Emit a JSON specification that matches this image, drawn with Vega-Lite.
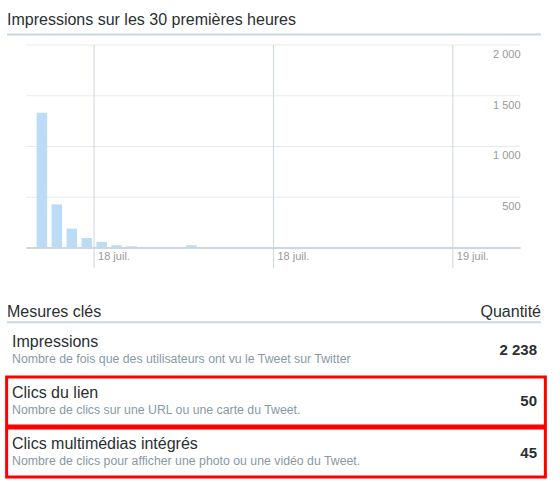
{
  "$schema": "https://vega.github.io/schema/vega-lite/v6.json",
  "background": "#ffffff",
  "autosize": {"type": "fit", "contains": "padding"},
  "width": 560,
  "height": 487,
  "padding": 0,
  "datasets": {
    "impressions": [
      {"heure": "2015-07-17T20:00:00", "nombre": 1332},
      {"heure": "2015-07-17T21:00:00", "nombre": 430},
      {"heure": "2015-07-17T22:00:00", "nombre": 191},
      {"heure": "2015-07-17T23:00:00", "nombre": 98},
      {"heure": "2015-07-18T00:00:00", "nombre": 59},
      {"heure": "2015-07-18T01:00:00", "nombre": 27},
      {"heure": "2015-07-18T02:00:00", "nombre": 17},
      {"heure": "2015-07-18T03:00:00", "nombre": 4},
      {"heure": "2015-07-18T04:00:00", "nombre": 3},
      {"heure": "2015-07-18T05:00:00", "nombre": 3},
      {"heure": "2015-07-18T06:00:00", "nombre": 27},
      {"heure": "2015-07-18T07:00:00", "nombre": 3},
      {"heure": "2015-07-18T08:00:00", "nombre": 2},
      {"heure": "2015-07-18T09:00:00", "nombre": 3},
      {"heure": "2015-07-18T10:00:00", "nombre": 2},
      {"heure": "2015-07-18T11:00:00", "nombre": 2},
      {"heure": "2015-07-18T12:00:00", "nombre": 3},
      {"heure": "2015-07-18T13:00:00", "nombre": 2},
      {"heure": "2015-07-18T14:00:00", "nombre": 3},
      {"heure": "2015-07-18T15:00:00", "nombre": 2},
      {"heure": "2015-07-18T16:00:00", "nombre": 2},
      {"heure": "2015-07-18T17:00:00", "nombre": 3},
      {"heure": "2015-07-18T18:00:00", "nombre": 2},
      {"heure": "2015-07-18T19:00:00", "nombre": 3},
      {"heure": "2015-07-18T20:00:00", "nombre": 2},
      {"heure": "2015-07-18T21:00:00", "nombre": 3},
      {"heure": "2015-07-18T22:00:00", "nombre": 2},
      {"heure": "2015-07-18T23:00:00", "nombre": 3},
      {"heure": "2015-07-19T00:00:00", "nombre": 2},
      {"heure": "2015-07-19T01:00:00", "nombre": 3}
    ],
    "reperes": [
      {"t": "2015-07-18T00:00:00"},
      {"t": "2015-07-18T12:00:00"},
      {"t": "2015-07-19T00:00:00"}
    ],
    "paliers": [{"v": 500}, {"v": 1000}, {"v": 1500}, {"v": 2000}],
    "mesures": [
      {"rang": 1, "nom": "Impressions", "description": "Nombre de fois que des utilisateurs ont vu le Tweet sur Twitter", "valeur": 2238, "surligne": false},
      {"rang": 2, "nom": "Clics du lien", "description": "Nombre de clics sur une URL ou une carte du Tweet.", "valeur": 50, "surligne": true},
      {"rang": 3, "nom": "Clics multimédias intégrés", "description": "Nombre de clics pour afficher une photo ou une vidéo du Tweet.", "valeur": 45, "surligne": true}
    ]
  },
  "layer": [
    {
      "layer": [
        {
          "data": {"name": "paliers"},
          "mark": {"type": "rule", "color": "#c9d4dc", "strokeDash": [1, 1], "strokeWidth": 1},
          "encoding": {
            "y": {
              "field": "v", "type": "quantitative",
              "scale": {"domain": [-2354.7, 2443.3], "nice": false, "zero": false},
              "axis": null
            },
            "x": {
              "datum": {"year": 2015, "month": 7, "date": 17, "hours": 19, "minutes": 29},
              "type": "temporal",
              "scale": {
                "domain": [
                  {"year": 2015, "month": 7, "date": 17, "hours": 18, "minutes": 2, "seconds": 26},
                  {"year": 2015, "month": 7, "date": 19, "hours": 6, "minutes": 50, "seconds": 6}
                ],
                "nice": false
              },
              "axis": null
            },
            "x2": {"datum": {"year": 2015, "month": 7, "date": 19, "hours": 4, "minutes": 32}}
          }
        },
        {
          "data": {"name": "reperes"},
          "mark": {"type": "rule", "color": "#ccd6dd", "strokeWidth": 1},
          "encoding": {
            "x": {"field": "t", "type": "temporal", "axis": null},
            "y": {"datum": 2000, "type": "quantitative"},
            "y2": {"datum": -197}
          }
        },
        {
          "data": {"name": "impressions"},
          "mark": {"type": "bar", "color": "#bbdcf4", "width": 10.5, "xOffset": 7.6},
          "encoding": {
            "x": {"field": "heure", "type": "temporal", "axis": null},
            "y": {"field": "nombre", "type": "quantitative", "stack": null, "axis": null}
          }
        },
        {
          "data": {"values": [{}]},
          "mark": {"type": "rule", "color": "#ccd6dd", "strokeWidth": 2},
          "encoding": {
            "y": {"datum": 0, "type": "quantitative"},
            "x": {"datum": {"year": 2015, "month": 7, "date": 17, "hours": 19, "minutes": 29}, "type": "temporal"},
            "x2": {"datum": {"year": 2015, "month": 7, "date": 19, "hours": 4, "minutes": 32}}
          }
        },
        {
          "data": {"name": "paliers"},
          "mark": {"type": "text", "align": "right", "baseline": "middle", "fontSize": 11, "color": "#999999", "dy": 10},
          "encoding": {
            "text": {"field": "v", "type": "quantitative", "format": ","},
            "y": {"field": "v", "type": "quantitative"},
            "x": {"datum": {"year": 2015, "month": 7, "date": 19, "hours": 4, "minutes": 32}, "type": "temporal"}
          }
        },
        {
          "data": {"name": "reperes"},
          "mark": {"type": "text", "align": "left", "baseline": "middle", "fontSize": 11, "color": "#999999", "dx": 4},
          "encoding": {
            "text": {"field": "t", "type": "temporal", "format": "%-d %b"},
            "x": {"field": "t", "type": "temporal"},
            "y": {"datum": -91.6, "type": "quantitative"}
          }
        }
      ]
    },
    {
      "layer": [
        {
          "data": {"values": [{"titre": "Impressions sur les 30 premières heures"}]},
          "mark": {"type": "text", "align": "left", "baseline": "middle", "fontSize": 16, "color": "#292f33"},
          "encoding": {
            "text": {"field": "titre"},
            "x": {"datum": 0.00369, "type": "quantitative", "scale": {"domain": [-0.009225, 1.023985], "nice": false, "zero": false}, "axis": null},
            "y": {"datum": -5.459, "type": "quantitative", "scale": {"domain": [-5.746, 3.574], "reverse": true, "nice": false, "zero": false}, "axis": null}
          }
        },
        {
          "data": {"values": [{}]},
          "mark": {"type": "rule", "color": "#ccd6dd", "strokeWidth": 2},
          "encoding": {
            "y": {"datum": -5.172, "type": "quantitative"},
            "x": {"datum": 0.00369, "type": "quantitative"},
            "x2": {"datum": 0.98893}
          }
        },
        {
          "data": {"name": "mesures"},
          "mark": {"type": "rule", "color": "#dfe6eb", "strokeDash": [1, 1], "strokeWidth": 1, "yOffset": 26.1},
          "encoding": {
            "y": {"field": "rang", "type": "quantitative"},
            "x": {"datum": 0, "type": "quantitative"},
            "x2": {"datum": 1}
          }
        },
        {
          "data": {"name": "mesures"},
          "transform": [{"filter": "datum.surligne"}],
          "mark": {"type": "bar", "orient": "horizontal", "fill": "transparent", "stroke": "#ff0000", "strokeWidth": 3, "size": 49},
          "encoding": {
            "y": {"field": "rang", "type": "quantitative"},
            "x": {"datum": 0.003, "type": "quantitative"},
            "x2": {"datum": 0.997}
          }
        },
        {
          "data": {"values": [{}]},
          "mark": {"type": "rule", "color": "#ccd6dd", "strokeWidth": 2},
          "encoding": {
            "y": {"datum": 0.455, "type": "quantitative"},
            "x": {"datum": 0.00369, "type": "quantitative"},
            "x2": {"datum": 0.98893}
          }
        },
        {
          "data": {"values": [{"entete": "Mesures clés"}]},
          "mark": {"type": "text", "align": "left", "baseline": "middle", "fontSize": 16, "color": "#292f33", "dx": 2},
          "encoding": {
            "text": {"field": "entete"},
            "x": {"datum": 0, "type": "quantitative"},
            "y": {"datum": 0.244, "type": "quantitative"}
          }
        },
        {
          "data": {"values": [{"entete": "Quantité"}]},
          "mark": {"type": "text", "align": "right", "baseline": "middle", "fontSize": 16, "color": "#292f33", "dx": -6},
          "encoding": {
            "text": {"field": "entete"},
            "x": {"datum": 1, "type": "quantitative"},
            "y": {"datum": 0.244, "type": "quantitative"}
          }
        },
        {
          "data": {"name": "mesures"},
          "mark": {"type": "text", "align": "left", "baseline": "middle", "fontSize": 16, "color": "#292f33", "dx": 7, "dy": -8.5},
          "encoding": {
            "text": {"field": "nom"},
            "x": {"datum": 0, "type": "quantitative"},
            "y": {"field": "rang", "type": "quantitative"}
          }
        },
        {
          "data": {"name": "mesures"},
          "mark": {"type": "text", "align": "left", "baseline": "middle", "fontSize": 12.3, "color": "#8899a6", "dx": 7, "dy": 8.5},
          "encoding": {
            "text": {"field": "description"},
            "x": {"datum": 0, "type": "quantitative"},
            "y": {"field": "rang", "type": "quantitative"}
          }
        },
        {
          "data": {"name": "mesures"},
          "mark": {"type": "text", "align": "right", "baseline": "middle", "fontSize": 15, "fontWeight": "bold", "color": "#292f33", "dx": -10},
          "encoding": {
            "text": {"field": "valeur", "type": "quantitative", "format": ","},
            "x": {"datum": 1, "type": "quantitative"},
            "y": {"field": "rang", "type": "quantitative"}
          }
        }
      ]
    }
  ],
  "resolve": {"scale": {"x": "independent", "y": "independent"}},
  "config": {
    "view": {"stroke": null},
    "axis": {"disable": true},
    "font": "Liberation Sans",
    "locale": {
      "number": {"decimal": ",", "thousands": " ", "grouping": [3], "currency": ["", " €"]},
      "time": {
        "dateTime": "%A %e %B %Y à %X",
        "date": "%d/%m/%Y",
        "time": "%H:%M:%S",
        "periods": ["AM", "PM"],
        "days": ["dimanche", "lundi", "mardi", "mercredi", "jeudi", "vendredi", "samedi"],
        "shortDays": ["dim.", "lun.", "mar.", "mer.", "jeu.", "ven.", "sam."],
        "months": ["janvier", "février", "mars", "avril", "mai", "juin", "juillet", "août", "septembre", "octobre", "novembre", "décembre"],
        "shortMonths": ["janv.", "févr.", "mars", "avr.", "mai", "juin", "juil.", "août", "sept.", "oct.", "nov.", "déc."]
      }
    }
  }
}
